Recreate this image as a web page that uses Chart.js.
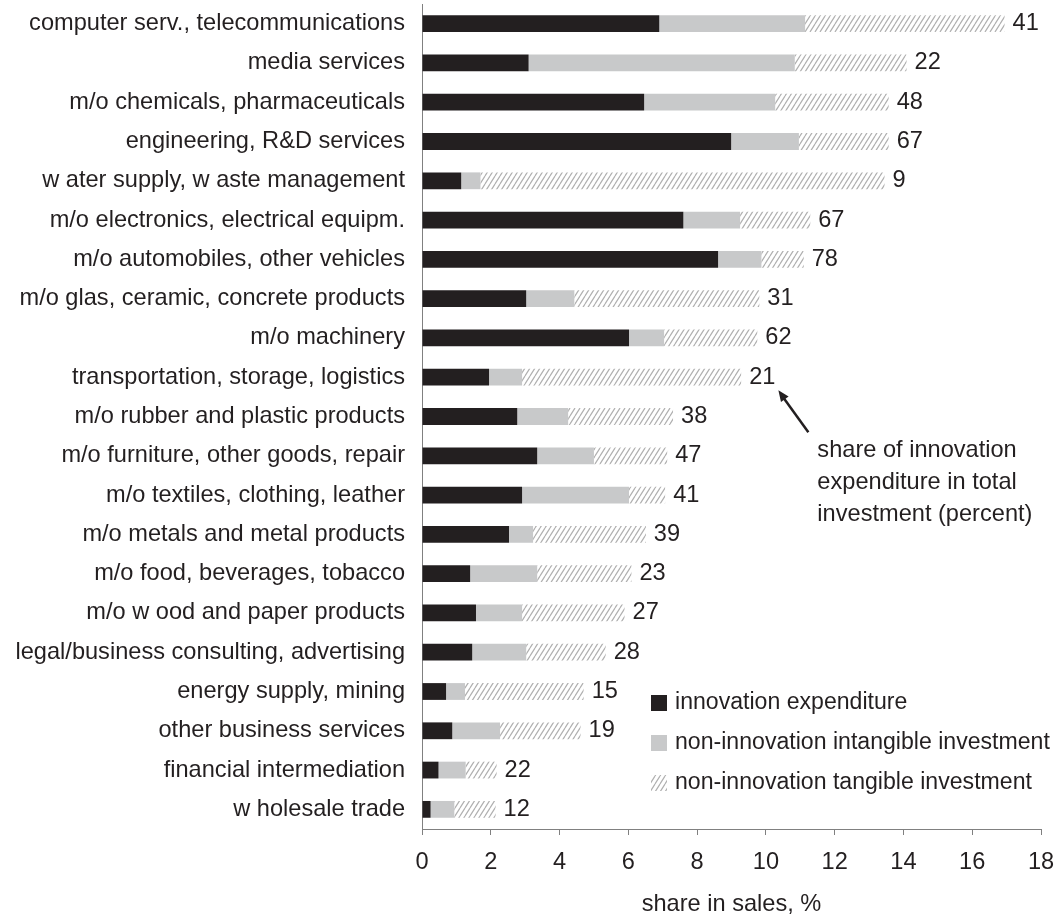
<!DOCTYPE html>
<html>
<head>
<meta charset="utf-8">
<script src="https://cdn.jsdelivr.net/npm/chart.js@4.4.1/dist/chart.umd.min.js"></script>
<style>
  html, body { margin: 0; padding: 0; background: #fff; }
  #wrap { width: 1057px; height: 915px; }
</style>
</head>
<body>
<div id="wrap"><canvas id="chart"></canvas></div>
<script>
const categories = [
  'computer serv., telecommunications',
  'media services',
  'm/o chemicals, pharmaceuticals',
  'engineering, R&D services',
  'w ater supply, w aste management',
  'm/o electronics, electrical equipm.',
  'm/o automobiles, other vehicles',
  'm/o glas, ceramic, concrete products',
  'm/o machinery',
  'transportation, storage, logistics',
  'm/o rubber and plastic products',
  'm/o furniture, other goods, repair',
  'm/o textiles, clothing, leather',
  'm/o metals and metal products',
  'm/o food, beverages, tobacco',
  'm/o w ood and paper products',
  'legal/business consulting, advertising',
  'energy supply, mining',
  'other business services',
  'financial intermediation',
  'w holesale trade'
];

// share in sales, %
const innovation = [6.90, 3.10, 6.46, 8.99, 1.14, 7.60, 8.61, 3.03, 6.02, 1.95, 2.77,
                    3.35, 2.91, 2.53, 1.40, 1.57, 1.46, 0.70, 0.88, 0.48, 0.25];
const intangible = [4.24, 7.74, 3.81, 1.97, 0.56, 1.65, 1.26, 1.40, 1.02, 0.96, 1.48,
                    1.65, 3.11, 0.70, 1.95, 1.34, 1.57, 0.55, 1.39, 0.79, 0.69];
const tangible   = [5.80, 3.25, 3.30, 2.61, 11.75, 2.04, 1.23, 5.38, 2.71, 6.37, 3.05,
                    2.13, 1.05, 3.28, 2.74, 2.98, 2.31, 3.45, 2.34, 0.90, 1.20];

// share of innovation expenditure in total investment (percent)
const shares = [41, 22, 48, 67, 9, 67, 78, 31, 62, 21, 38, 47, 41, 39, 23, 27, 28, 15, 19, 22, 12];

const seriesNames = ['innovation expenditure', 'non-innovation intangible investment', 'non-innovation tangible investment'];
const noteLines = ['share of innovation', 'expenditure in total', 'investment (percent)'];
const noteRow = 9; // arrow points at transportation label

const FONT = '"Liberation Sans", Arial, sans-serif';
const FSIZE = 23.6;
const TEXT = '#231f20';
const BLACK = '#231f20';
const GREY = '#c8c9ca';

// diagonal hatch for tangible investment
function makeHatch() {
  const w = 5, h = 8;
  const c = document.createElement('canvas');
  c.width = w; c.height = h;
  const g = c.getContext('2d');
  g.fillStyle = '#fff';
  g.fillRect(0, 0, w, h);
  g.strokeStyle = '#b0b0b0';
  g.lineWidth = 1.2;
  g.beginPath();
  for (let k = -1; k <= 1; k++) {
    g.moveTo(k * w, h);
    g.lineTo(k * w + w, 0);
  }
  g.stroke();
  return g.createPattern(c, 'repeat');
}
const hatch = makeHatch();

const shareLabels = {
  id: 'shareLabels',
  afterDatasetsDraw(chart) {
    const ctx = chart.ctx;
    const meta = chart.getDatasetMeta(2);
    ctx.save();
    ctx.font = FSIZE + 'px ' + FONT;
    ctx.fillStyle = TEXT;
    ctx.textAlign = 'left';
    ctx.textBaseline = 'middle';
    meta.data.forEach((bar, i) => {
      ctx.fillText(String(shares[i]), bar.x + 8, bar.y);
    });

    // annotation with arrow
    const bar = meta.data[noteRow];
    const lw = ctx.measureText(String(shares[noteRow])).width;
    const tipX = bar.x + 8 + lw + 3, tipY = bar.y + 13;
    const tailX = tipX + 30, tailY = tipY + 42;
    ctx.strokeStyle = TEXT;
    ctx.fillStyle = TEXT;
    ctx.lineWidth = 2.5;
    ctx.beginPath();
    ctx.moveTo(tailX, tailY);
    ctx.lineTo(tipX + 4, tipY + 6);
    ctx.stroke();
    const ang = Math.atan2(tipY - tailY, tipX - tailX);
    ctx.beginPath();
    ctx.moveTo(tipX, tipY);
    ctx.lineTo(tipX - 12 * Math.cos(ang - 0.4), tipY - 12 * Math.sin(ang - 0.4));
    ctx.lineTo(tipX - 12 * Math.cos(ang + 0.4), tipY - 12 * Math.sin(ang + 0.4));
    ctx.closePath();
    ctx.fill();
    noteLines.forEach((t, k) => ctx.fillText(t, tailX + 9, tailY + 18 + k * 32));

    // legend
    ctx.font = '23.1px ' + FONT;
    const area = chart.chartArea;
    const lx = area.left + 229;
    const fills = [BLACK, GREY, hatch];
    fills.forEach((f, k) => {
      const cy = area.bottom - 126 + k * 40;
      ctx.fillStyle = f;
      ctx.fillRect(lx, cy - 8, 16, 16);
      ctx.fillStyle = TEXT;
      ctx.fillText(seriesNames[k], lx + 24, cy);
    });
    ctx.restore();
  }
};

new Chart(document.getElementById('chart'), {
  type: 'bar',
  data: {
    labels: categories,
    datasets: [
      { label: seriesNames[0], data: innovation, backgroundColor: BLACK },
      { label: seriesNames[1], data: intangible, backgroundColor: GREY },
      { label: seriesNames[2], data: tangible, backgroundColor: hatch }
    ]
  },
  options: {
    indexAxis: 'y',
    responsive: true,
    maintainAspectRatio: false,
    animation: false,
    categoryPercentage: 0.45,
    barPercentage: 0.95,
    layout: { padding: { top: 4, right: 16, bottom: 0, left: 0 } },
    plugins: { legend: { display: false }, tooltip: { enabled: false } },
    scales: {
      x: {
        stacked: true,
        min: 0,
        max: 18,
        ticks: { stepSize: 2, padding: 13, color: TEXT, font: { family: FONT, size: FSIZE } },
        grid: { display: true, drawOnChartArea: false, drawTicks: true, tickLength: 6, color: '#808080' },
        border: { display: true, color: '#808080' },
        title: { display: true, text: 'share in sales, %', color: TEXT, font: { family: FONT, size: FSIZE, lineHeight: 0.9 }, padding: { top: 0, bottom: 0 } },
        afterFit(scale) { scale.height = 86; scale.paddingLeft = 0; scale.paddingRight = 0; }
      },
      y: {
        stacked: true,
        ticks: { autoSkip: false, padding: 17, color: TEXT, font: { family: FONT, size: FSIZE } },
        grid: { display: false, drawTicks: false },
        border: { display: true, color: '#808080' },
        afterFit(scale) { scale.width = 422; scale.paddingTop = 0; scale.paddingBottom = 0; }
      }
    }
  },
  plugins: [shareLabels]
});
</script>
</body>
</html>
